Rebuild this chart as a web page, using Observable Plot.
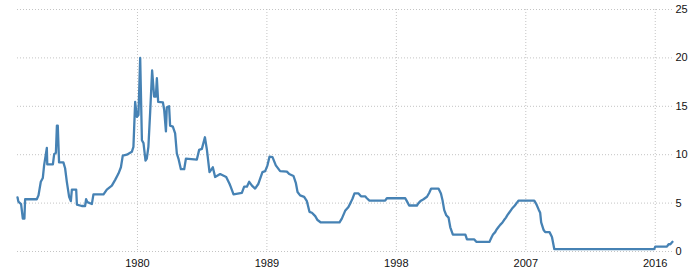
<!DOCTYPE html>
<html><head><meta charset="utf-8">
<script src="https://cdn.jsdelivr.net/npm/d3@7"></script>
<script src="https://cdn.jsdelivr.net/npm/@observablehq/plot@0.6"></script>
<style>body{margin:0;background:#fff}</style>
</head><body><div id="chart"></div>
<script>
const years = [1971.66,1971.72,1971.91,1972.03,1972.14,1972.19,1973.00,1973.12,1973.28,1973.42,1973.51,1973.70,1973.73,1974.12,1974.21,1974.33,1974.40,1974.46,1974.55,1974.85,1974.97,1975.09,1975.25,1975.37,1975.44,1975.74,1975.79,1976.13,1976.36,1976.43,1976.52,1976.83,1976.94,1977.64,1977.87,1978.22,1978.45,1978.68,1978.85,1978.98,1979.26,1979.61,1979.72,1979.84,1979.96,1980.07,1980.19,1980.31,1980.42,1980.56,1980.65,1980.76,1980.88,1981.02,1981.16,1981.28,1981.35,1981.44,1981.77,1981.86,1981.98,1982.04,1982.20,1982.27,1982.46,1982.62,1982.74,1982.85,1983.02,1983.25,1983.37,1984.13,1984.29,1984.48,1984.69,1984.83,1985.01,1985.24,1985.40,1985.75,1986.17,1986.40,1986.48,1986.68,1987.26,1987.42,1987.61,1987.77,1987.96,1988.18,1988.41,1988.69,1988.88,1989.04,1989.18,1989.39,1989.62,1989.92,1990.39,1990.55,1990.85,1991.01,1991.13,1991.31,1991.59,1991.78,1991.96,1992.13,1992.36,1992.52,1992.75,1994.05,1994.21,1994.44,1994.67,1994.84,1994.95,1995.09,1995.37,1995.54,1995.83,1995.95,1996.13,1997.22,1997.34,1998.62,1998.73,1998.89,1999.43,1999.54,1999.71,1999.89,2000.13,2000.28,2000.42,2000.93,2001.10,2001.21,2001.33,2001.47,2001.63,2001.75,2001.93,2002.80,2002.91,2003.42,2003.56,2004.48,2004.55,2004.63,2004.72,2004.87,2004.96,2005.09,2005.22,2005.38,2005.49,2005.62,2005.72,2005.84,2005.96,2006.08,2006.24,2006.36,2006.49,2007.59,2007.73,2007.89,2008.00,2008.07,2008.23,2008.35,2008.65,2008.82,2008.98,2015.93,2016.00,2016.81,2016.93,2017.05,2017.20];
const rates = [5.6,5.15,4.9,3.4,3.4,5.4,5.4,5.8,7.2,7.6,8.9,10.7,9.0,9.0,10.05,10.2,13.0,13.0,9.2,9.2,8.6,7.2,5.65,5.2,6.4,6.4,4.85,4.7,4.7,5.4,5.1,4.9,5.9,5.9,6.4,6.8,7.4,8.05,8.7,9.9,10.0,10.3,10.8,15.45,13.9,14.1,20.0,11.5,11.2,9.4,9.6,10.8,14.3,18.7,16.0,16.0,17.9,15.45,15.4,14.6,12.4,14.9,15.0,13.0,12.9,12.2,10.1,9.6,8.5,8.5,9.6,9.5,10.5,10.6,11.8,10.5,8.2,8.7,7.7,8.0,7.7,7.0,6.7,5.9,6.05,6.7,6.7,7.2,6.8,6.5,7.0,8.2,8.3,8.9,9.8,9.75,8.9,8.3,8.25,8.0,7.8,7.1,6.15,5.8,5.65,5.2,4.1,4.0,3.65,3.25,3.0,3.0,3.4,4.2,4.6,5.1,5.45,6.0,6.0,5.7,5.7,5.5,5.25,5.25,5.5,5.5,5.2,4.75,4.75,5.0,5.25,5.4,5.65,6.05,6.5,6.5,6.0,5.3,4.27,3.75,3.5,2.5,1.75,1.75,1.25,1.25,1.0,1.0,1.25,1.5,1.75,2.0,2.25,2.5,2.75,3.0,3.25,3.5,3.75,4.0,4.25,4.5,4.75,5.0,5.25,5.25,4.9,4.35,4.0,3.0,2.25,2.0,2.0,1.5,0.25,0.25,0.5,0.5,0.75,0.75,1.0];
const yearTicks = [1980,1989,1998,2007,2016];
const rateTicks = [0,5,10,15,20,25];
const data = years.map((t,i)=>({t, r: rates[i]}));
const chart = Plot.plot({
  width:698, height:278, marginLeft:17, marginRight:26, marginTop:9, marginBottom:27,
  style:{fontFamily:"'Liberation Sans', Arial, sans-serif", fontSize:"11px", color:"#111", background:"#fff"},
  x:{domain:[years[0], years[years.length-1]], label:null},
  y:{domain:[0,25], label:null},
  marks:[
    Plot.gridY(rateTicks,{stroke:"#c4c4c4", strokeOpacity:1, strokeDasharray:"1,2"}),
    Plot.gridX(yearTicks,{stroke:"#c4c4c4", strokeOpacity:1, strokeDasharray:"1,2"}),
    Plot.axisX(yearTicks,{tickSize:0, tickPadding:8, tickFormat:d=>String(d), label:null}),
    Plot.axisY(rateTicks,{anchor:"right", tickSize:0, tickPadding:3, label:null}),
    Plot.line(data,{x:"t", y:"r", stroke:"#4682b4", strokeWidth:2.3})
  ]
});
document.getElementById("chart").appendChild(chart);
</script>
</body></html>
